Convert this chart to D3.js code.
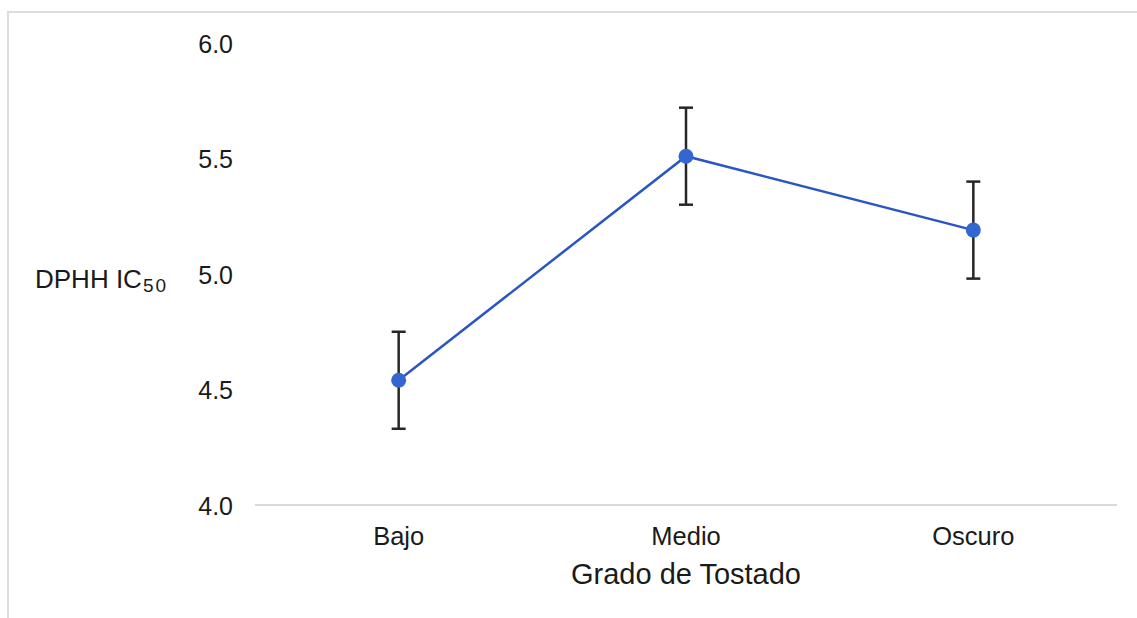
<!DOCTYPE html>
<html>
<head>
<meta charset="utf-8">
<script src="https://cdn.jsdelivr.net/npm/d3@7"></script>
<style>
  html, body { margin: 0; padding: 0; background: #fff; }
  svg { display: block; font-family: Arial, "Liberation Sans", sans-serif; }
</style>
</head>
<body>
<svg id="chart" width="1137" height="618"></svg>
<script>
// Roast degree categories and DPHH IC50 means with their error margins
const categories = ["Bajo", "Medio", "Oscuro"];
const means = [4.54, 5.51, 5.19];
const errors = [0.21, 0.21, 0.21];
const yTicks = [4.0, 4.5, 5.0, 5.5, 6.0];

const svg = d3.select("#chart");
const W = 1137, H = 618;
const plot = { left: 255, right: 1117, top: 43, bottom: 505 };

// Outer frame (top and left edges only)
svg.append("path")
  .attr("d", `M8,${H} L8,12 L${W},12`)
  .attr("fill", "none")
  .attr("stroke", "#dcdcdc")
  .attr("stroke-width", 2);

const x = d3.scaleBand().domain(categories).range([plot.left, plot.right]);
const y = d3.scaleLinear().domain([4, 6]).range([plot.bottom, plot.top]);

// Y tick labels (no axis line)
const yAxis = d3.axisLeft(y).tickValues(yTicks).tickFormat(d3.format(".1f")).tickSize(0).tickPadding(0);
const gy = svg.append("g").attr("transform", `translate(233,0)`).call(yAxis);
gy.select(".domain").remove();
gy.selectAll("text")
  .attr("font-size", 25)
  .attr("fill", "#1a1a1a")
  .attr("font-family", "Arial, 'Liberation Sans', sans-serif")
  .attr("dy", "0.36em");

// Baseline at 4.0
svg.append("line")
  .attr("x1", plot.left).attr("x2", plot.right)
  .attr("y1", y(4)).attr("y2", y(4))
  .attr("stroke", "#d9d9d9").attr("stroke-width", 2);

// X category labels
const xAxis = d3.axisBottom(x).tickSize(0).tickPadding(0);
const gx = svg.append("g").attr("transform", `translate(0,${y(4)})`).call(xAxis);
gx.select(".domain").remove();
gx.selectAll("text")
  .attr("font-size", 25.5)
  .attr("fill", "#1a1a1a")
  .attr("font-family", "Arial, 'Liberation Sans', sans-serif")
  .attr("dy", null)
  .attr("y", 40);

// Axis titles
svg.append("text")
  .attr("x", (plot.left + plot.right) / 2)
  .attr("y", 584)
  .attr("text-anchor", "middle")
  .attr("font-size", 29)
  .attr("fill", "#1a1a1a")
  .text("Grado de Tostado");

const yt = svg.append("text")
  .attr("x", 35)
  .attr("y", 288)
  .attr("font-size", 26)
  .attr("fill", "#1a1a1a");
yt.append("tspan").text("DPHH IC");
yt.append("tspan").attr("font-size", 19).attr("dy", 4).attr("dx", 1)
  .attr("letter-spacing", 2).text("50");

const data = categories.map((c, i) => ({ c, m: means[i], e: errors[i] }));
const cx = d => x(d.c) + x.bandwidth() / 2;

// Error bars
const eb = svg.append("g").attr("stroke", "#262626").attr("stroke-width", 2.5);
data.forEach(d => {
  eb.append("line").attr("x1", cx(d)).attr("x2", cx(d))
    .attr("y1", y(d.m - d.e)).attr("y2", y(d.m + d.e));
  [d.m - d.e, d.m + d.e].forEach(v => {
    eb.append("line").attr("x1", cx(d) - 7).attr("x2", cx(d) + 7)
      .attr("y1", y(v)).attr("y2", y(v));
  });
});

// Mean line and markers
svg.append("path")
  .datum(data)
  .attr("fill", "none")
  .attr("stroke", "#2a56c4")
  .attr("stroke-width", 2.5)
  .attr("d", d3.line().x(cx).y(d => y(d.m)));

svg.append("g").selectAll("circle")
  .data(data)
  .join("circle")
  .attr("cx", cx)
  .attr("cy", d => y(d.m))
  .attr("r", 7.5)
  .attr("fill", "#3366d0");
</script>
</body>
</html>
